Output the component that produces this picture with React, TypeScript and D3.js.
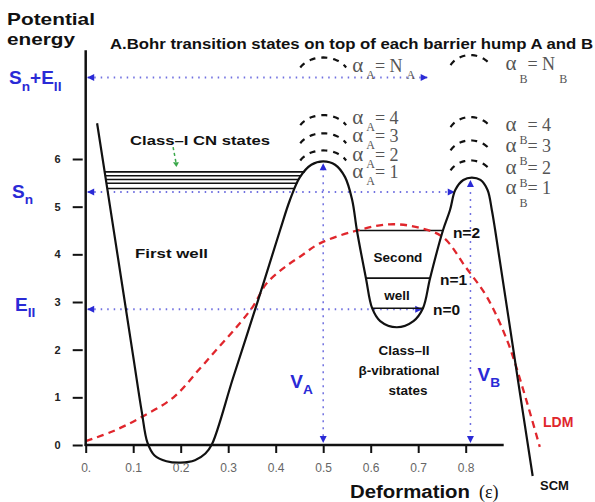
import React, { useEffect, useRef } from 'react';
import * as d3 from 'd3';

const W = 595;
const H = 502;

const xTicks = [0, 0.1, 0.2, 0.3, 0.4, 0.5, 0.6, 0.7, 0.8];
const yTicks = [0, 1, 2, 3, 4, 5, 6];

// SCM potential: [deformation, energy]
const scmPoints: [number, number][] = [
  [0.024, 6.75], [0.06, 4.44], [0.1, 1.86], [0.118, 0.7], [0.13, 0.05],
  [0.145, -0.22], [0.17, -0.34], [0.2, -0.37], [0.23, -0.32], [0.252, -0.18],
  [0.266, 0.02], [0.31, 1.4], [0.363, 3.04], [0.409, 4.5], [0.43, 5.14],
  [0.451, 5.62], [0.475, 5.88], [0.5, 5.95], [0.525, 5.88], [0.546, 5.62],
  [0.561, 5.14], [0.571, 4.5], [0.59, 3.5], [0.603, 2.87], [0.62, 2.6],
  [0.655, 2.47], [0.69, 2.6], [0.71, 2.87], [0.725, 3.5], [0.752, 4.5],
  [0.767, 4.93], [0.778, 5.35], [0.795, 5.56], [0.813, 5.61], [0.831, 5.56],
  [0.846, 5.35], [0.855, 4.93], [0.862, 4.51], [0.91, 1.36], [0.941, -0.65],
];

// LDM potential: [deformation, energy]
const ldmPoints: [number, number][] = [
  [0, 0.08], [0.06, 0.3], [0.12, 0.6], [0.185, 1.0], [0.24, 1.6], [0.28, 2.05],
  [0.32, 2.5], [0.353, 2.92], [0.38, 3.38], [0.415, 3.7], [0.451, 3.95],
  [0.493, 4.23], [0.571, 4.5], [0.64, 4.63], [0.697, 4.57], [0.752, 4.36],
  [0.8, 3.73], [0.845, 3.1], [0.887, 2.2], [0.915, 1.36], [0.956, -0.04],
];

const classILevels = [5.73, 5.65, 5.57, 5.49, 5.38];
const secondWellLevels = [4.5, 3.5, 2.87];
const secondWellLabels = ['n=2', 'n=1', 'n=0'];

const snEnergy = 5.31;
const eIIEnergy = 2.85;
const snPlusEEnergy = 7.71;
const snPlusEEnd = 0.72;

const barrierA = 0.5;
const barrierB = 0.81;
const arcTopsA = [6.18, 6.54, 6.92, 8.13];
const arcTopsB = [5.97, 6.39, 6.88, 8.18];
const alphaLabelsA = ['1', '2', '3', '4', 'N'];
const alphaLabelsB = ['1', '2', '3', '4', 'N'];

const SANS = 'Liberation Sans, Arial, Helvetica, sans-serif';
const SERIF = 'Liberation Serif, Times New Roman, serif';
const BLUE = '#2a2ad6';
const DOT_BLUE = '#7070e0';
const RED = '#e0262c';

// where the SCM curve crosses energy e between two deformations
function crossing(e: number, xmin: number, xmax: number) {
  for (let i = 0; i < scmPoints.length - 1; i++) {
    const [x0, e0] = scmPoints[i];
    const [x1, e1] = scmPoints[i + 1];
    if (x0 < xmin || x1 > xmax) continue;
    if ((e - e0) * (e - e1) <= 0 && e0 !== e1) {
      return x0 + ((e - e0) / (e1 - e0)) * (x1 - x0);
    }
  }
  return xmin;
}

export default function App() {
  const svgRef = useRef<SVGSVGElement>(null);

  useEffect(() => {
    if (!svgRef.current) return;
    const svg = d3.select(svgRef.current);
    svg.selectAll('*').remove();

    const x = d3.scaleLinear().domain([0, 0.8]).range([85.7, 465.7]);
    const y = d3.scaleLinear().domain([0, 6]).range([445, 159]);

    const arrow = (px: number, py: number, dir: string, color: string) => {
      const s = 7;
      const h = 3.5;
      let pts: [number, number][] = [];
      if (dir === 'left') pts = [[px, py], [px + s, py - h], [px + s, py + h]];
      if (dir === 'right') pts = [[px, py], [px - s, py - h], [px - s, py + h]];
      if (dir === 'up') pts = [[px, py], [px - h, py + s], [px + h, py + s]];
      if (dir === 'down') pts = [[px, py], [px - h, py - s], [px + h, py - s]];
      svg.append('path').attr('d', d3.line()(pts) + 'Z').attr('fill', color);
    };

    // Dotted reference lines
    const hLines = [
      { e: snPlusEEnergy, end: snPlusEEnd },
      { e: snEnergy, end: crossing(snEnergy, 0.655, 0.813) },
      { e: eIIEnergy, end: crossing(eIIEnergy, 0.655, 0.813) },
    ];
    hLines.forEach((l) => {
      svg.append('line')
        .attr('x1', x(0) + 2).attr('x2', x(l.end))
        .attr('y1', y(l.e)).attr('y2', y(l.e))
        .attr('stroke', DOT_BLUE).attr('stroke-width', 2)
        .attr('stroke-dasharray', '1.5,5');
      arrow(x(0) + 1.5, y(l.e), 'left', BLUE);
      arrow(x(l.end), y(l.e), 'right', BLUE);
    });

    [{ d: barrierA, top: 5.93 }, { d: barrierB, top: 5.58 }].forEach((v) => {
      svg.append('line')
        .attr('x1', x(v.d)).attr('x2', x(v.d))
        .attr('y1', y(v.top) + 6).attr('y2', y(0) - 6)
        .attr('stroke', DOT_BLUE).attr('stroke-width', 1.5)
        .attr('stroke-dasharray', '2,5');
      arrow(x(v.d), y(v.top) + 1, 'up', BLUE);
      arrow(x(v.d), y(0) - 2, 'down', BLUE);
    });

    // Class-I levels in first well
    classILevels.forEach((e) => {
      svg.append('line')
        .attr('x1', x(crossing(e, 0, 0.13))).attr('x2', x(crossing(e, 0.26, 0.5)))
        .attr('y1', y(e)).attr('y2', y(e))
        .attr('stroke', '#111').attr('stroke-width', 1.6);
    });

    // Vibrational levels in second well
    secondWellLevels.forEach((e) => {
      svg.append('line')
        .attr('x1', x(crossing(e, 0.5, 0.655))).attr('x2', x(crossing(e, 0.655, 0.813)))
        .attr('y1', y(e)).attr('y2', y(e))
        .attr('stroke', '#111').attr('stroke-width', 1.6);
    });

    const line = d3.line<[number, number]>()
      .x((d) => x(d[0]))
      .y((d) => y(d[1]))
      .curve(d3.curveCatmullRom.alpha(0.5));

    svg.append('path').attr('d', line(ldmPoints))
      .attr('fill', 'none').attr('stroke', RED).attr('stroke-width', 2.3)
      .attr('stroke-dasharray', '7,5');

    svg.append('path').attr('d', line(scmPoints))
      .attr('fill', 'none').attr('stroke', '#111').attr('stroke-width', 2.2);

    // Bohr transition-state arcs
    const arcPath = (cx: number, top: number, rx: number, ry: number) => {
      const pts = d3.range(30, 151, 5).map((a) => {
        const t = (a * Math.PI) / 180;
        return [cx - rx * Math.cos(t), top + ry - ry * Math.sin(t)] as [number, number];
      });
      return d3.line()(pts);
    };
    arcTopsA.forEach((e) => {
      svg.append('path').attr('d', arcPath(x(barrierA), y(e), 26.5, 20))
        .attr('fill', 'none').attr('stroke', '#111').attr('stroke-width', 2.2)
        .attr('stroke-dasharray', '6,6');
    });
    arcTopsB.forEach((e) => {
      svg.append('path').attr('d', arcPath(x(barrierB), y(e), 23, 20))
        .attr('fill', 'none').attr('stroke', '#111').attr('stroke-width', 2.2)
        .attr('stroke-dasharray', '6,6');
    });

    // Axes
    const xAxis = svg.append('g')
      .attr('transform', `translate(0,${y(0)})`)
      .call(d3.axisBottom(x).tickValues(xTicks).tickSize(8).tickSizeOuter(0).tickPadding(10)
        .tickFormat((d) => (+d === 0 ? '0.' : d3.format('.1f')(+d))));
    xAxis.select('.domain').remove();
    xAxis.selectAll('.tick line').attr('stroke', '#111').attr('stroke-width', 2);
    xAxis.selectAll('.tick text')
      .attr('font-family', SANS).attr('font-size', 12).attr('fill', '#666');
    svg.append('line')
      .attr('x1', x(0) - 1).attr('x2', x(0.88))
      .attr('y1', y(0)).attr('y2', y(0))
      .attr('stroke', '#111').attr('stroke-width', 2.5);

    const yAxis = svg.append('g')
      .attr('transform', `translate(${x(0)},0)`)
      .call(d3.axisLeft(y).tickValues(yTicks).tickSize(13).tickSizeOuter(0).tickPadding(12)
        .tickFormat((d) => String(d)));
    yAxis.select('.domain').remove();
    yAxis.selectAll('.tick line').attr('x1', -3).attr('stroke', '#111').attr('stroke-width', 2);
    yAxis.selectAll('.tick text')
      .attr('font-family', SANS).attr('font-size', 11).attr('font-weight', 'bold').attr('fill', '#222');
    svg.append('line')
      .attr('x1', x(0)).attr('x2', x(0))
      .attr('y1', y(0) + 1).attr('y2', y(8.28))
      .attr('stroke', '#111').attr('stroke-width', 2.5);

    // Texts
    const txt = (tx: number, ty: number, s: string, size: number, opts: any = {}) => {
      const t = svg.append('text')
        .attr('x', tx).attr('y', ty)
        .attr('font-family', opts.family || SANS)
        .attr('font-size', size)
        .attr('font-weight', opts.weight || 'bold')
        .attr('fill', opts.fill || '#111')
        .attr('text-anchor', opts.anchor || 'start')
        .text(s);
      if (opts.len) t.attr('textLength', opts.len).attr('lengthAdjust', 'spacingAndGlyphs');
      return t;
    };

    txt(7, 25, 'Potential', 17, { len: 88 });
    txt(7, 45, 'energy', 17, { len: 68 });
    txt(110, 49, 'A.Bohr transition states on top of each barrier hump A and B', 14, { len: 483 });

    // blue energy labels with subscripts
    const sub = (tx: number, ty: number, parts: [string, boolean][], size: number) => {
      const t = svg.append('text').attr('x', tx).attr('y', ty)
        .attr('font-family', SANS).attr('font-weight', 'bold').attr('fill', BLUE);
      let low = false;
      parts.forEach(([s, isSub]) => {
        const sp = t.append('tspan').text(s)
          .attr('font-size', isSub ? size * 0.72 : size);
        if (isSub && !low) sp.attr('dy', size * 0.33);
        if (!isSub && low) sp.attr('dy', -size * 0.33);
        low = isSub;
      });
    };
    sub(9, y(snPlusEEnergy) + 7, [['S', false], ['n', true], ['+E', false], ['II', true]], 19);
    sub(12, y(snEnergy) + 6, [['S', false], ['n', true]], 19);
    sub(15, y(eIIEnergy) + 2, [['E', false], ['II', true]], 19);
    sub(x(barrierA) - 33, 388, [['V', false], ['A', true]], 19);
    sub(x(barrierB) + 7, 381, [['V', false], ['B', true]], 19);

    txt(130, 145, 'Class\u2013I CN states', 13.5, { len: 140 });
    txt(135, 258, 'First well', 13.5, { len: 73 });
    txt(398, 262, 'Second', 13.5, { anchor: 'middle' });
    txt(397, 300, 'well', 13.5, { anchor: 'middle' });
    secondWellLevels.forEach((e, i) => {
      txt(x(crossing(e, 0.655, 0.813)) + 10, y(e) + 7, secondWellLabels[i], 15.5);
    });
    txt(404, 355, 'Class\u2013II', 13.5, { anchor: 'middle' });
    txt(399, 375, '\u03b2-vibrational', 13.5, { anchor: 'middle' });
    txt(408, 395, 'states', 13.5, { anchor: 'middle' });
    txt(543, 427, 'LDM', 14, { fill: RED });
    txt(540, 490, 'SCM', 13);
    txt(350, 498, 'Deformation', 17.5, { len: 120 });
    txt(479, 498, '(\u03b5)', 18, { family: SERIF, weight: 'normal' });

    // green pointer to class-I states
    svg.append('line')
      .attr('x1', x(0.184)).attr('y1', y(6.25))
      .attr('x2', x(0.19)).attr('y2', y(5.93))
      .attr('stroke', '#3aa84a').attr('stroke-width', 1.5).attr('stroke-dasharray', '3,3');
    svg.append('path')
      .attr('d', `M${x(0.19) - 3},${y(5.93)} L${x(0.19) + 3},${y(5.93)} L${x(0.191)},${y(5.83)} Z`)
      .attr('fill', '#3aa84a');

    // alpha labels
    const alpha = (tx: number, ty: number, subc: string, val: string, drop: number, N: boolean) => {
      const t = svg.append('text').attr('x', tx).attr('y', ty)
        .attr('font-family', SERIF).attr('fill', '#555').attr('font-size', 18);
      t.append('tspan').text('\u03b1').attr('font-size', 21);
      t.append('tspan').text(subc).attr('font-size', 12).attr('dx', 3).attr('dy', drop);
      t.append('tspan').text(N ? '= N' : '= ' + val).attr('dy', -drop);
      if (N) t.append('tspan').text(subc).attr('font-size', 12).attr('dx', 4).attr('dy', drop);
    };
    const rowsA = [178, 161, 142, 124];
    const rowsB = [194, 174, 152, 131];
    alphaLabelsA.forEach((v, i) => {
      const N = v === 'N';
      alpha(x(barrierA) + 29, N ? 72 : rowsA[i], 'A', v, 7, N);
    });
    alphaLabelsB.forEach((v, i) => {
      const N = v === 'N';
      alpha(x(barrierB) + 35, N ? 70 : rowsB[i], 'B', v, 13, N);
    });
  }, []);

  return (
    <div style={{ position: 'absolute', left: 0, top: 0 }}>
      <svg ref={svgRef} width={W} height={H} style={{ display: 'block', background: '#fff' }} />
    </div>
  );
}
